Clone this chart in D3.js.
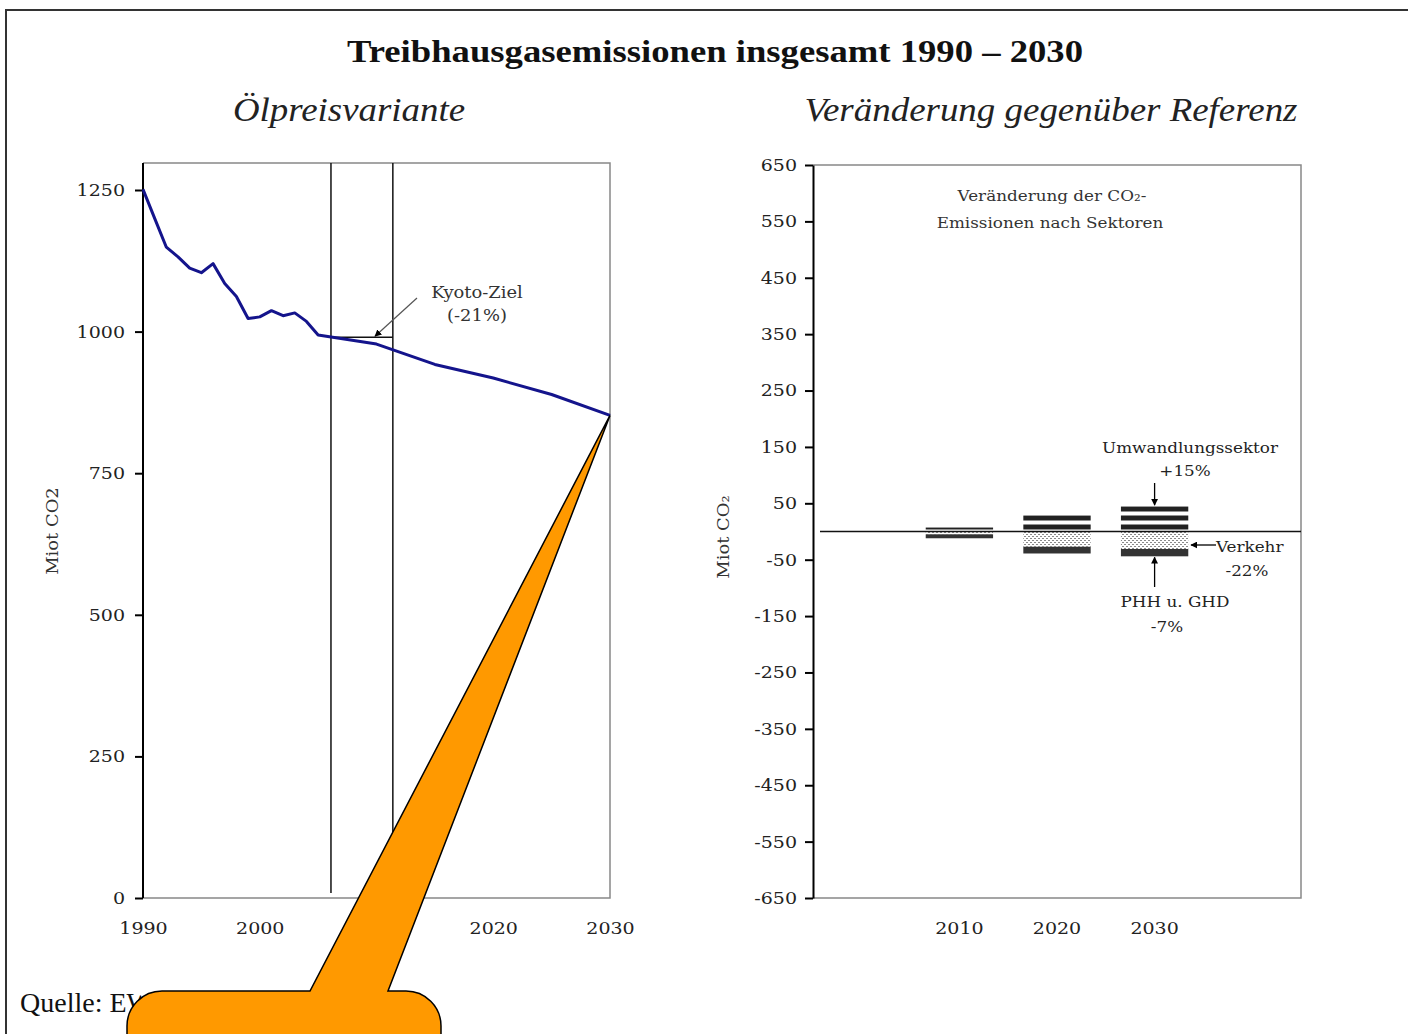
<!DOCTYPE html>
<html>
<head>
<meta charset="utf-8">
<script src="https://cdn.jsdelivr.net/npm/d3@7"></script>
<style>
  body { margin: 0; background: #fff; }
  svg { display: block; }
</style>
</head>
<body>
<div id="chart"></div>
<script>
// left panel: total emissions, Ölpreisvariante
const years = [1990, 1991, 1992, 1993, 1994, 1995, 1996, 1997, 1998, 1999, 2000, 2001, 2002, 2003, 2004, 2005, 2010, 2015, 2020, 2025, 2030];
const emissions = [1251, 1200, 1149, 1132, 1112, 1104, 1120, 1085, 1062, 1023, 1026, 1037, 1028, 1033, 1018, 994, 978, 942, 918, 889, 852];
const kyotoPeriod = [2006.1, 2011.4];
const kyotoTarget = 990;
const leftYTicks = [0, 250, 500, 750, 1000, 1250];
const leftXTicks = [1990, 2000, 2010, 2020, 2030];

// right panel: change against reference, by sector
const barYears = ["2010", "2020", "2030"];
const umwandlung = [7, 29, 45];
const verkehr = [-5, -27, -31];
const phh = [-7, -12, -13];
const rightYTicks = [650, 550, 450, 350, 250, 150, 50, -50, -150, -250, -350, -450, -550, -650];

const W = 1408, H = 1034;
const serif = "'Liberation Serif', 'Times New Roman', serif";
const wide = "'DejaVu Serif', serif";
const K = 1.12; // the source scan is a bit wider than the fonts we have

// widen text horizontally around its anchor
function stretch(sel, k) {
    sel.each(function() {
        const t = d3.select(this);
        const x = +(t.attr("x") || 0);
        t.attr("x", x / k);
        t.attr("transform", (t.attr("transform") || "") + ` scale(${k},1)`);
    });
}

const svg = d3.select("#chart").append("svg")
    .attr("width", W)
    .attr("height", H);

svg.append("rect").attr("width", W).attr("height", H).attr("fill", "#fff");

const defs = svg.append("defs");

defs.append("marker")
    .attr("id", "head")
    .attr("viewBox", "0 0 10 10")
    .attr("refX", 9).attr("refY", 5)
    .attr("markerWidth", 7).attr("markerHeight", 7)
    .attr("markerUnits", "userSpaceOnUse")
    .attr("orient", "auto")
  .append("path")
    .attr("d", "M0,0 L10,5 L0,10 Z")
    .attr("fill", "#000");

// outer frame
svg.append("path")
    .attr("d", "M6,1034 L6,10 L1408,10")
    .attr("fill", "none")
    .attr("stroke", "#333")
    .attr("stroke-width", 2);

// titles
svg.append("text")
    .attr("x", 715).attr("y", 62)
    .attr("text-anchor", "middle")
    .attr("textLength", 736)
    .attr("lengthAdjust", "spacingAndGlyphs")
    .style("font", `bold 32px ${serif}`)
    .attr("fill", "#111")
    .text("Treibhausgasemissionen insgesamt 1990 – 2030");

svg.append("text")
    .attr("x", 349).attr("y", 121)
    .attr("text-anchor", "middle")
    .attr("textLength", 232)
    .attr("lengthAdjust", "spacingAndGlyphs")
    .style("font", `italic 33px ${serif}`)
    .attr("fill", "#222")
    .text("Ölpreisvariante");

svg.append("text")
    .attr("x", 1051).attr("y", 121)
    .attr("text-anchor", "middle")
    .attr("textLength", 493)
    .attr("lengthAdjust", "spacingAndGlyphs")
    .style("font", `italic 33px ${serif}`)
    .attr("fill", "#222")
    .text("Veränderung gegenüber Referenz");

// ---------- left panel ----------
const xL = d3.scaleLinear().domain([1990, 2030]).range([143, 610]);
const yL = d3.scaleLinear().domain([0, 1250]).range([898, 190]);
const topL = 163;

const left = svg.append("g");

left.append("path")
    .attr("d", `M${xL(1990)},${topL} L${xL(2030)},${topL} L${xL(2030)},${yL(0)} L${xL(1990)},${yL(0)}`)
    .attr("fill", "none")
    .attr("stroke", "#888")
    .attr("stroke-width", 1.5);

const yAxisL = left.append("g")
    .attr("transform", `translate(${xL(1990)},0)`)
    .call(d3.axisLeft(yL).tickValues(leftYTicks).tickFormat(d => String(d)).tickSize(8).tickPadding(10).tickSizeOuter(0));
yAxisL.select(".domain").attr("d", `M0,${topL} L0,${yL(0)}`).attr("stroke", "#000").attr("stroke-width", 2);
yAxisL.selectAll(".tick line").attr("stroke", "#000").attr("stroke-width", 2);
yAxisL.selectAll("text").style("font", `17px ${wide}`).attr("fill", "#222").call(stretch, K);

const xAxisL = left.append("g")
    .attr("transform", `translate(0,${yL(0)})`)
    .call(d3.axisBottom(xL).tickValues(leftXTicks).tickFormat(d => String(d)).tickSize(0).tickPadding(24));
xAxisL.select(".domain").remove();
xAxisL.selectAll("text").style("font", `17px ${wide}`).attr("fill", "#222").call(stretch, K);

left.append("text")
    .attr("transform", `translate(58,531) rotate(-90)`)
    .attr("text-anchor", "middle")
    .style("font", `16px ${wide}`)
    .attr("fill", "#333")
    .text("Miot CO2")
    .call(stretch, K);

// Kyoto period
left.selectAll(".kyoto")
    .data(kyotoPeriod)
    .join("line")
    .attr("x1", d => xL(d)).attr("x2", d => xL(d))
    .attr("y1", topL).attr("y2", yL(0) - 5)
    .attr("stroke", "#111")
    .attr("stroke-width", 1.5);

left.append("line")
    .attr("x1", xL(kyotoPeriod[0])).attr("x2", xL(kyotoPeriod[1]))
    .attr("y1", yL(kyotoTarget)).attr("y2", yL(kyotoTarget))
    .attr("stroke", "#111")
    .attr("stroke-width", 1.5);

left.append("path")
    .datum(years.map((y, i) => [y, emissions[i]]))
    .attr("d", d3.line().x(d => xL(d[0])).y(d => yL(d[1])))
    .attr("fill", "none")
    .attr("stroke", "#14148c")
    .attr("stroke-width", 3)
    .attr("stroke-linejoin", "round");

left.append("line")
    .attr("x1", 417).attr("y1", 298)
    .attr("x2", 375).attr("y2", yL(kyotoTarget) - 1)
    .attr("stroke", "#555")
    .attr("stroke-width", 1.2)
    .attr("marker-end", "url(#head)");

left.append("text")
    .attr("x", 477).attr("y", 298)
    .attr("text-anchor", "middle")
    .style("font", `16px ${wide}`)
    .attr("fill", "#333")
    .text("Kyoto-Ziel")
    .call(stretch, K);

left.append("text")
    .attr("x", 477).attr("y", 321)
    .attr("text-anchor", "middle")
    .style("font", `16px ${wide}`)
    .attr("fill", "#333")
    .text("(-21%)")
    .call(stretch, K);

// ---------- right panel ----------
const xR = d3.scaleBand().domain(barYears).range([813, 1301]).paddingInner(0).paddingOuter(1);
const yR = d3.scaleLinear().domain([-650, 650]).range([898, 165]);
const y0 = yR(0);

defs.append("pattern")
    .attr("id", "stripes")
    .attr("patternUnits", "userSpaceOnUse")
    .attr("x", 0).attr("y", y0 - 7)
    .attr("width", 10).attr("height", 9)
  .call(p => {
      p.append("rect").attr("width", 10).attr("height", 9).attr("fill", "#fff");
      p.append("rect").attr("width", 10).attr("height", 5).attr("fill", "#222");
  });

defs.append("pattern")
    .attr("id", "dots")
    .attr("patternUnits", "userSpaceOnUse")
    .attr("width", 4).attr("height", 4)
  .call(p => {
      p.append("rect").attr("width", 4).attr("height", 4).attr("fill", "#fff");
      p.append("rect").attr("x", 0).attr("y", 0).attr("width", 2).attr("height", 1).attr("fill", "#8a8a8a");
      p.append("rect").attr("x", 2).attr("y", 2).attr("width", 2).attr("height", 1).attr("fill", "#8a8a8a");
  });

const right = svg.append("g");

right.append("path")
    .attr("d", `M813,${yR(650)} L1301,${yR(650)} L1301,${yR(-650)} L813,${yR(-650)}`)
    .attr("fill", "none")
    .attr("stroke", "#888")
    .attr("stroke-width", 1.5);

const yAxisR = right.append("g")
    .attr("transform", "translate(813,0)")
    .call(d3.axisLeft(yR).tickValues(rightYTicks).tickFormat(d => String(d)).tickSize(8).tickPadding(8).tickSizeOuter(0));
yAxisR.select(".domain").attr("stroke", "#000").attr("stroke-width", 2);
yAxisR.selectAll(".tick line").attr("stroke", "#000").attr("stroke-width", 2);
yAxisR.selectAll("text").style("font", `17px ${wide}`).attr("fill", "#222").call(stretch, K);

const xAxisR = right.append("g")
    .attr("transform", `translate(0,${yR(-650)})`)
    .call(d3.axisBottom(xR).tickSize(0).tickPadding(24));
xAxisR.select(".domain").remove();
xAxisR.selectAll("text").style("font", `17px ${wide}`).attr("fill", "#222").call(stretch, K);

right.append("text")
    .attr("transform", `translate(729,537) rotate(-90)`)
    .attr("text-anchor", "middle")
    .style("font", `16px ${wide}`)
    .attr("fill", "#333")
    .text("Miot CO₂")
    .call(stretch, K);

right.append("text")
    .attr("x", 1052).attr("y", 201)
    .attr("text-anchor", "middle")
    .style("font", `15px ${wide}`)
    .attr("fill", "#333")
    .text("Veränderung der  CO₂-")
    .call(stretch, K);

right.append("text")
    .attr("x", 1050).attr("y", 228)
    .attr("text-anchor", "middle")
    .style("font", `15px ${wide}`)
    .attr("fill", "#333")
    .text("Emissionen nach Sektoren")
    .call(stretch, K);

// stacked bars
const bw = xR.bandwidth() * 0.69;
const bx = d => xR(d) + (xR.bandwidth() - bw) / 2;

const bars = barYears.map((yr, i) => ({ yr, up: umwandlung[i], vk: verkehr[i], ph: phh[i] }));

right.selectAll(".up")
    .data(bars)
    .join("rect")
    .attr("x", d => bx(d.yr))
    .attr("width", bw)
    .attr("y", d => yR(d.up))
    .attr("height", d => y0 - yR(d.up))
    .attr("fill", "url(#stripes)");

right.selectAll(".vk")
    .data(bars)
    .join("rect")
    .attr("x", d => bx(d.yr))
    .attr("width", bw)
    .attr("y", y0)
    .attr("height", d => yR(d.vk) - y0)
    .attr("fill", "url(#dots)");

right.selectAll(".ph")
    .data(bars)
    .join("rect")
    .attr("x", d => bx(d.yr))
    .attr("width", bw)
    .attr("y", d => yR(d.vk))
    .attr("height", d => yR(d.vk + d.ph) - yR(d.vk))
    .attr("fill", "#333");

right.append("line")
    .attr("x1", 820).attr("x2", 1301)
    .attr("y1", y0).attr("y2", y0)
    .attr("stroke", "#111")
    .attr("stroke-width", 1.5);

// sector annotations
const last = bars[bars.length - 1];
const cx = xR(last.yr) + xR.bandwidth() / 2;
const note = (x, y, t, anchor) => right.append("text")
    .attr("x", x).attr("y", y)
    .attr("text-anchor", anchor || "middle")
    .style("font", `15px ${wide}`)
    .attr("fill", "#222")
    .text(t)
    .call(stretch, K);

note(1190, 453, "Umwandlungssektor");
note(1185, 476, "+15%");
note(1216, 552, "Verkehr", "start");
note(1247, 576, "-22%");
note(1175, 607, "PHH u. GHD");
note(1167, 632, "-7%");

const arrow = (x1, y1, x2, y2) => right.append("line")
    .attr("x1", x1).attr("y1", y1).attr("x2", x2).attr("y2", y2)
    .attr("stroke", "#000")
    .attr("stroke-width", 1.3)
    .attr("marker-end", "url(#head)");

arrow(cx, 483, cx, yR(last.up) - 1);
arrow(1216, 545, 1191, 545);
arrow(cx, 587, cx, yR(last.vk + last.ph) + 1);

// source line
svg.append("text")
    .attr("x", 20).attr("y", 1012)
    .style("font", `28px ${serif}`)
    .attr("fill", "#111")
    .text("Quelle: EWI/Prognos");

// callout bubble pointing at the 2030 value
const tipX = xL(2030), tipY = yL(emissions[emissions.length - 1]);
svg.append("path")
    .attr("d", `M127,1100 L127,1026 A35,35 0 0 1 162,991 L310,991 L${tipX},${tipY} L388,991 L406,991 A35,35 0 0 1 441,1026 L441,1100 Z`)
    .attr("fill", "#ff9900")
    .attr("stroke", "#000")
    .attr("stroke-width", 1.5)
    .attr("stroke-linejoin", "miter");
</script>
</body>
</html>
